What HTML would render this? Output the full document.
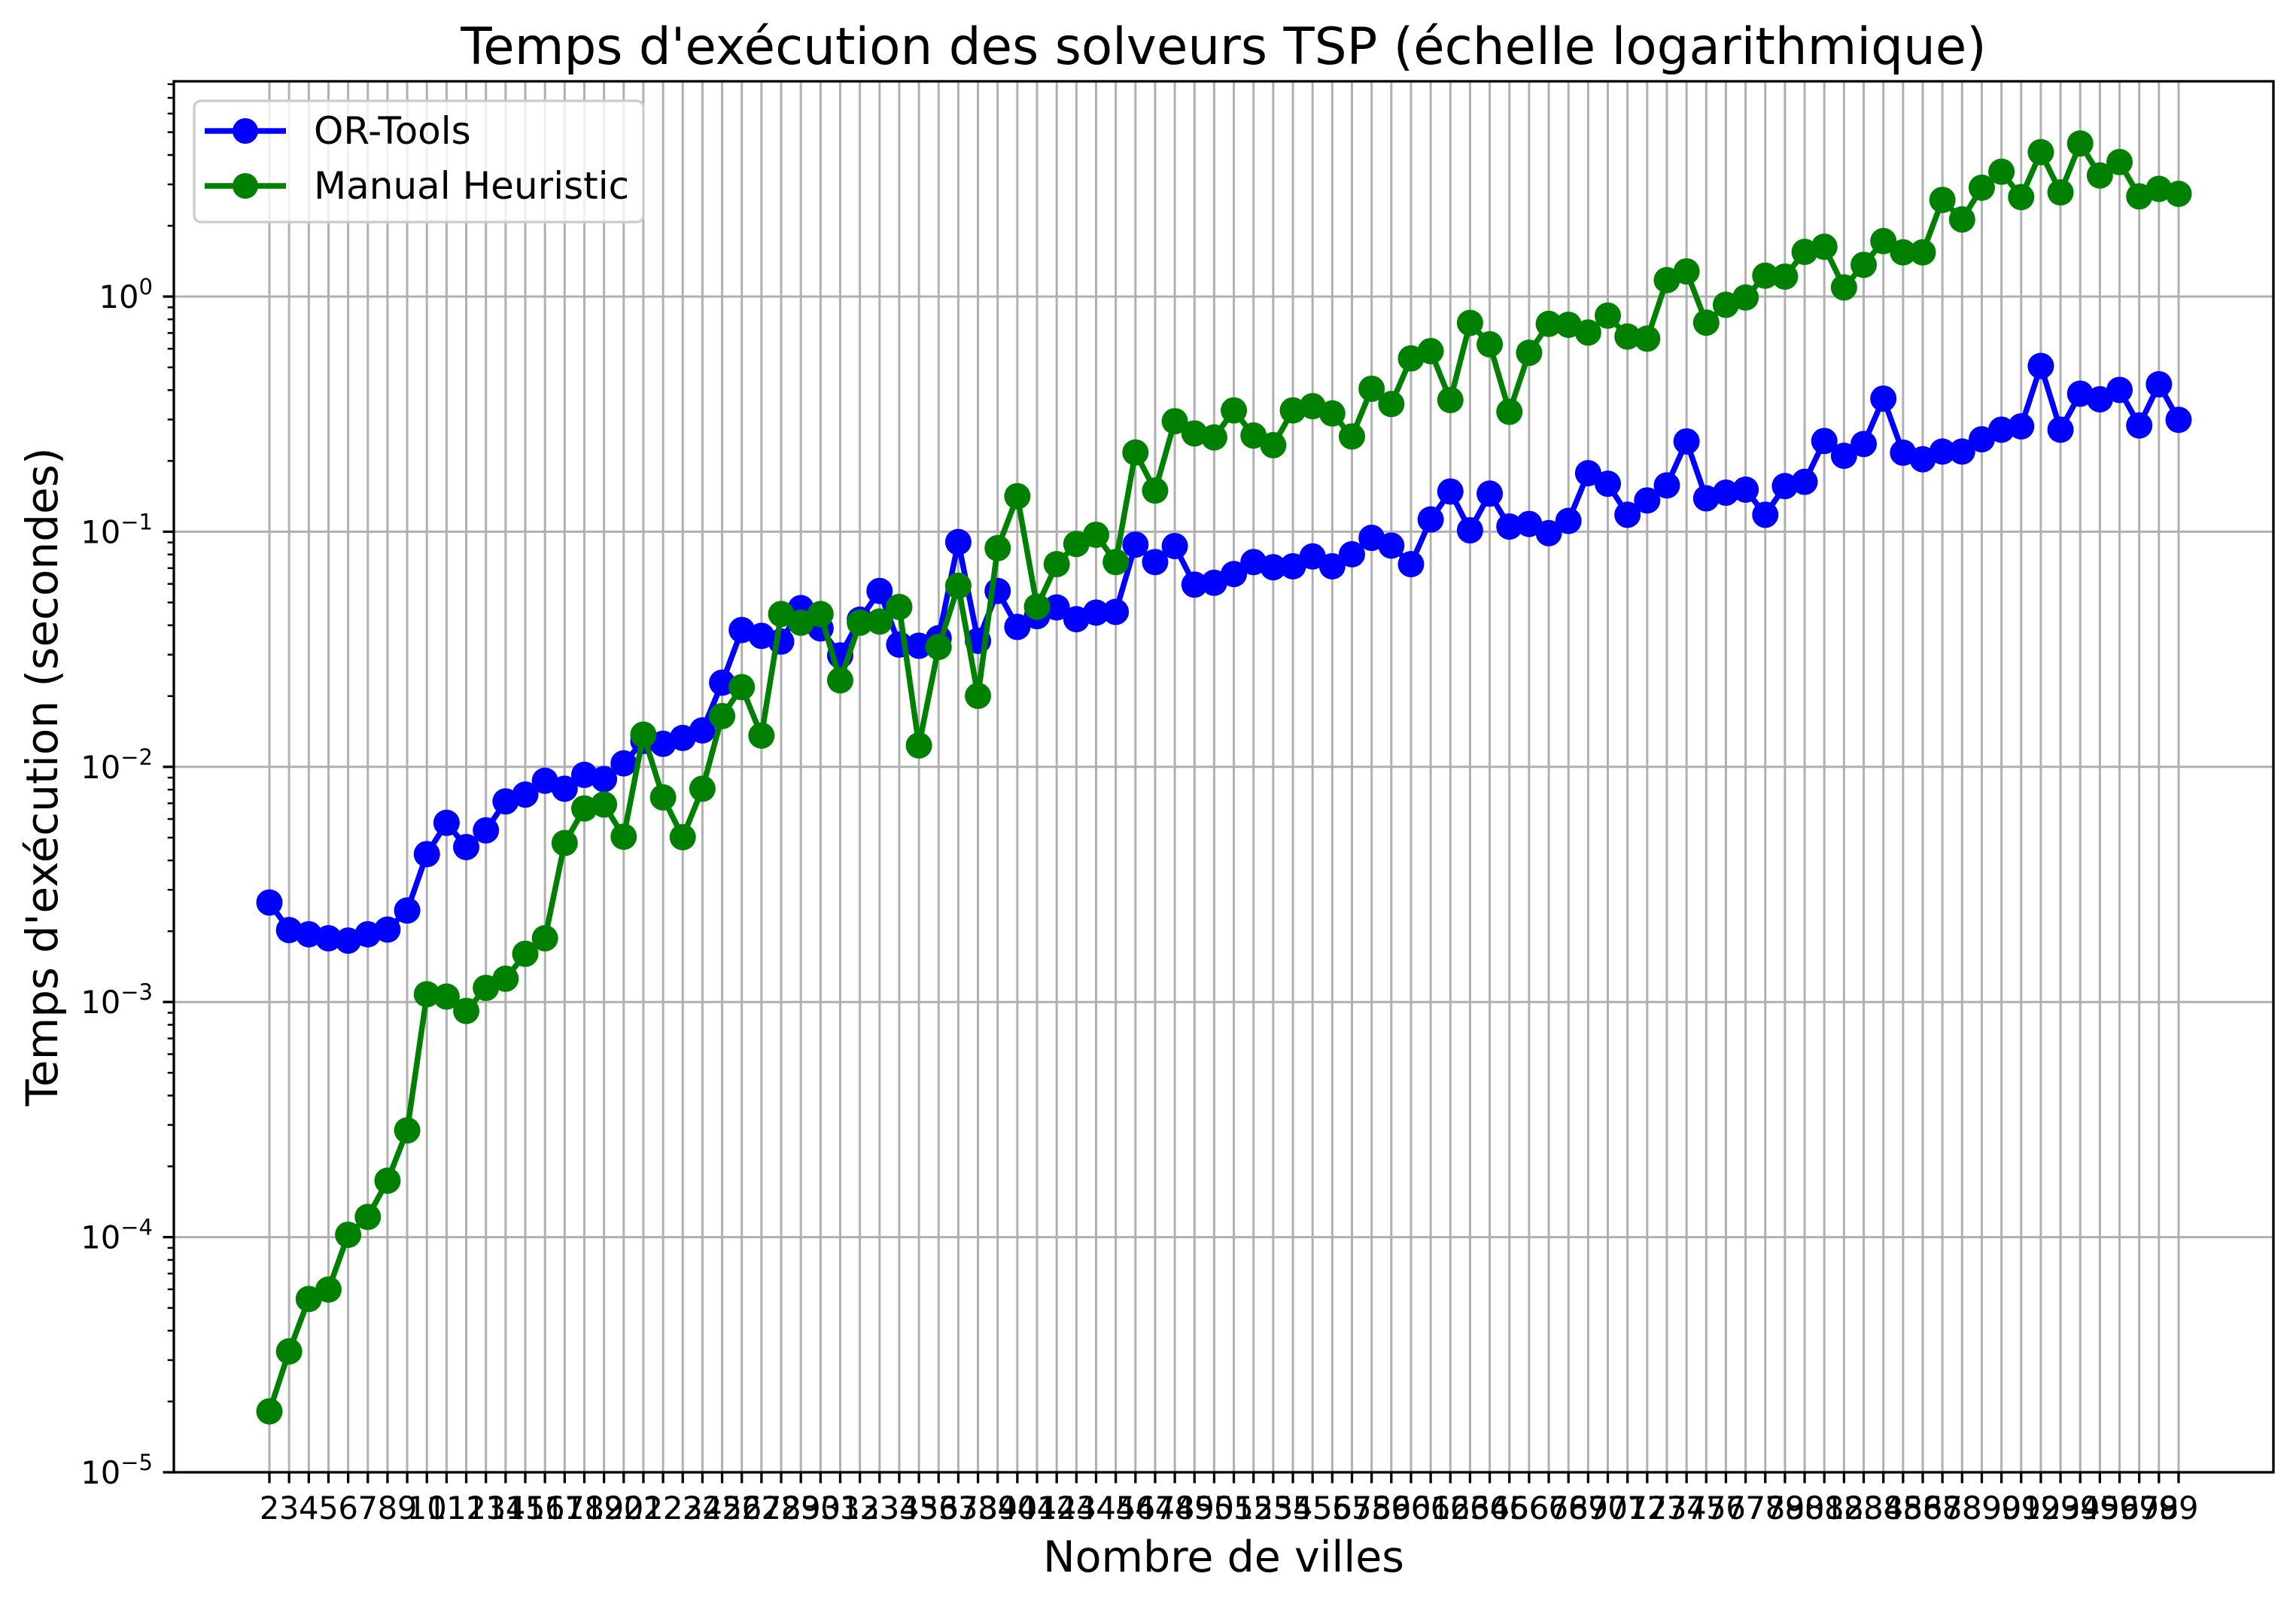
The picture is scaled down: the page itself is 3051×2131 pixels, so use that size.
<!DOCTYPE html>
<html><head><meta charset="utf-8"><style>
html,body{margin:0;padding:0;background:#fff;}
svg{display:block;font-family:"DejaVu Sans","Liberation Sans",sans-serif;}
</style></head><body>
<svg id="chart" width="3051" height="2131" viewBox="0 0 3051 2131" xmlns="http://www.w3.org/2000/svg">
<rect width="3051" height="2131" fill="#fff"/>
<text x="1626" y="85" font-size="67.5" text-anchor="middle">Temps d'exécution des solveurs TSP (échelle logarithmique)</text>
<text x="1626" y="2088" font-size="57" text-anchor="middle">Nombre de villes</text>
<text x="0" y="0" font-size="58" text-anchor="middle" transform="translate(76,1032) rotate(-90)">Temps d'exécution (secondes)</text>
<g id="grid"></g><g id="series"></g><g id="axes"></g><g id="legend"></g>
</svg>
<script>
// Data: number of cities, and log10 of execution time (seconds)
const cities = Array.from({length:98},(_,k)=>k+2);
const orToolsLog10 = [-2.577,-2.694,-2.712,-2.729,-2.739,-2.712,-2.692,-2.611,-2.371,-2.238,-2.341,-2.270,-2.147,-2.118,-2.059,-2.093,-2.034,-2.052,-1.985,-1.890,-1.902,-1.877,-1.845,-1.642,-1.418,-1.443,-1.467,-1.325,-1.411,-1.526,-1.374,-1.252,-1.480,-1.485,-1.453,-1.044,-1.464,-1.252,-1.405,-1.359,-1.322,-1.372,-1.344,-1.341,-1.055,-1.129,-1.061,-1.225,-1.217,-1.180,-1.129,-1.151,-1.147,-1.105,-1.147,-1.096,-1.026,-1.059,-1.138,-0.948,-0.829,-0.994,-0.838,-0.978,-0.967,-1.006,-0.954,-0.751,-0.796,-0.928,-0.867,-0.803,-0.616,-0.858,-0.834,-0.821,-0.928,-0.806,-0.788,-0.614,-0.677,-0.627,-0.434,-0.664,-0.692,-0.659,-0.659,-0.607,-0.566,-0.552,-0.295,-0.566,-0.413,-0.437,-0.397,-0.548,-0.373,-0.524];
const heuristicLog10 = [-4.741,-4.486,-4.263,-4.223,-3.990,-3.914,-3.760,-3.546,-2.967,-2.977,-3.038,-2.940,-2.901,-2.795,-2.729,-2.324,-2.177,-2.160,-2.297,-1.863,-2.130,-2.299,-2.093,-1.784,-1.661,-1.867,-1.350,-1.387,-1.350,-1.632,-1.387,-1.382,-1.320,-1.909,-1.490,-1.230,-1.698,-1.070,-0.849,-1.319,-1.138,-1.052,-1.013,-1.129,-0.663,-0.825,-0.530,-0.582,-0.599,-0.484,-0.591,-0.632,-0.484,-0.466,-0.497,-0.595,-0.392,-0.457,-0.263,-0.232,-0.440,-0.112,-0.203,-0.490,-0.239,-0.116,-0.120,-0.153,-0.081,-0.170,-0.179,0.070,0.107,-0.111,-0.035,-0.004,0.089,0.085,0.190,0.212,0.039,0.135,0.236,0.188,0.188,0.411,0.328,0.463,0.531,0.423,0.614,0.443,0.651,0.515,0.572,0.426,0.458,0.437];
const yTickExps = [0,-1,-2,-3,-4,-5];
const seriesNames = ["OR-Tools","Manual Heuristic"];

const NS="http://www.w3.org/2000/svg";
const L=231,R=3021,T=108,B=1956;
const X0=358,XN=2895;
function xs(c){return X0+(c-cities[0])*(XN-X0)/(cities[cities.length-1]-cities[0]);}
function ys(lg){return 394-lg*312.4;}
function mk(tag,attrs,parent){const e=document.createElementNS(NS,tag);for(const k in attrs)e.setAttribute(k,attrs[k]);parent.appendChild(e);return e;}
const grid=document.getElementById('grid'),series=document.getElementById('series'),axes=document.getElementById('axes'),legend=document.getElementById('legend');

// grid
cities.forEach(c=>{const g=mk('line',{x1:xs(c),x2:xs(c),y1:T,y2:B,stroke:'#b0b0b0','stroke-width':3},grid);

});
yTickExps.forEach(e=>{const g=mk('line',{x1:L,x2:R,y1:ys(e),y2:ys(e),stroke:'#b0b0b0','stroke-width':3},grid);

});

// series
function drawSeries(vals,color,name){
  const g=mk('g',{},series);
  
  
  const pts=vals.map((v,i)=>xs(cities[i])+','+ys(v)).join(' ');
  const pl=mk('polyline',{points:pts,fill:'none',stroke:color,'stroke-width':7.5,'stroke-linejoin':'round'},g);
  
  
  vals.forEach((v,i)=>{const c=mk('circle',{cx:xs(cities[i]),cy:ys(v),r:17.5,fill:color},g);
    
    });
}
drawSeries(orToolsLog10,'#0000ff','or-tools-series');
drawSeries(heuristicLog10,'#008000','manual-heuristic-series');

// axes frame
const fr=mk('rect',{x:L,y:T,width:R-L,height:B-T,fill:'none',stroke:'#000','stroke-width':3.3},axes);


// x ticks
cities.forEach(c=>{const t=mk('line',{x1:xs(c),x2:xs(c),y1:B,y2:B+14.5,stroke:'#000','stroke-width':3.3},axes);
 
 
 const tx=mk('text',{x:xs(c),y:2018,'font-size':41.7,'text-anchor':'middle'},axes);tx.textContent=c;
 
 });
// y ticks
const yMin=-5,yMax=(394-T)/312.4;
for(let e=-5;e<=0;e++){for(let k=1;k<=9;k++){const lg=e+Math.log10(k);if(lg<yMin-1e-9||lg>yMax)continue;
 const major=k===1;const t=mk('line',{x1:L-(major?14.5:8.3),x2:L,y1:ys(lg),y2:ys(lg),stroke:'#000','stroke-width':major?3.3:2.5},axes);
 
 }}
yTickExps.forEach(e=>{const tx=mk('text',{x:203,y:ys(e)+15,'font-size':41.7,'text-anchor':'end'},axes);
 const a=mk('tspan',{},tx);a.textContent='10';
 const b=mk('tspan',{dy:-18,'font-size':29},tx);b.textContent=e===0?'0':'\u2212'+(-e);
 
 });

// legend
const lb=mk('rect',{x:258,y:134,width:597,height:161,rx:9,fill:'#fff','fill-opacity':0.8,stroke:'#cccccc','stroke-width':3.3},legend);


[['#0000ff',174],['#008000',247]].forEach((r,i)=>{
 const g=mk('g',{},legend);
 
 
 mk('line',{x1:272,x2:380,y1:r[1],y2:r[1],stroke:r[0],'stroke-width':7.5},g);
 mk('circle',{cx:326,cy:r[1],r:17,fill:r[0]},g);
 const t=mk('text',{x:417,y:r[1]+17,'font-size':50},g);t.textContent=seriesNames[i];
});
</script>
</body></html>
